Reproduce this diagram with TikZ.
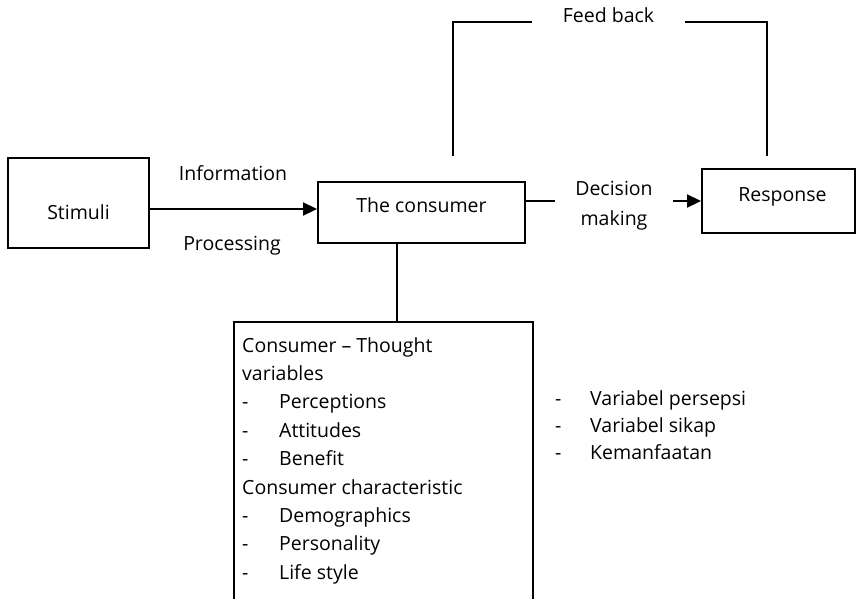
\documentclass[tikz,border=0pt]{standalone}
\usepackage{fontspec}
\setmainfont{Open Sans}
\usetikzlibrary{arrows.meta}
\begin{document}
\begin{tikzpicture}[x=1pt,y=-1pt,
  every node/.style={font=\fontsize{19.5}{22}\selectfont, inner sep=0pt},
  box/.style={draw, line width=1.9pt},
  wire/.style={line width=1.9pt},
  arr/.style={wire, -{Triangle[length=14pt,width=13pt]}}]
\clip (0,0) rectangle (856,599);

% main blocks
\node[box, minimum width=141pt, minimum height=90pt,
      label={[yshift=-9pt]center:Stimuli}] (stim) at (78.5,203) {};
\node[box, minimum width=207pt, minimum height=61pt,
      label={[yshift=7pt]center:The consumer}] (cons) at (421.5,212.5) {};
\node[box, minimum width=153pt, minimum height=64pt,
      label={[xshift=4pt,yshift=4pt]center:Response}] (resp) at (778.5,201) {};
\node[box, anchor=north west, minimum width=299pt, minimum height=300pt] (vars) at (233,321) {};

% stimuli -> consumer
\coordinate (ip) at (0,209);
\node (info) at (233,173) {Information};
\node (proc) at (232,246) {Processing};
\draw[arr] (stim.east |- ip) -- (cons.west |- ip);

% consumer -> response
\coordinate (dy) at (0,201);
\node[align=center, minimum width=118pt, font=\fontsize{19.5}{30}\selectfont] (dm) at (614,206) {Decision\\making};
\draw[wire] (cons.east |- dy) -- (dm.west |- dy);
\draw[arr] (dm.east |- dy) -- (resp.west |- dy);

% feedback loop
\node[minimum width=153pt, label={[yshift=7pt]center:Feed back}] (fb) at (608.5,22) {};
\coordinate (fbl) at (453,156);
\coordinate (fbr) at (767,156);
\draw[wire] (fbl) -- (fbl |- fb) -- (fb.west);
\draw[wire] (fb.east) -- (fbr |- fb) -- (fbr);

% consumer -> variables
\coordinate (cv) at (397,0);
\draw[wire] (cons.south -| cv) -- (vars.north -| cv);

% variable lists
\newcommand{\itm}[1]{\makebox[37pt][l]{-}#1}
\node[anchor=north west, align=left, font=\fontsize{19.5}{28.4}\selectfont] (vlist) at (242,337)
  {Consumer – Thought\\variables\\\itm{Perceptions}\\\itm{Attitudes}\\\itm{Benefit}\\
   Consumer characteristic\\\itm{Demographics}\\\itm{Personality}\\\itm{Life style}};
\node[anchor=north west, align=left, font=\fontsize{19.5}{27}\selectfont] (ilist) at (555,390)
  {\makebox[35pt][l]{-}Variabel persepsi\\\makebox[35pt][l]{-}Variabel sikap\\\makebox[35pt][l]{-}Kemanfaatan};
\end{tikzpicture}
\end{document}
